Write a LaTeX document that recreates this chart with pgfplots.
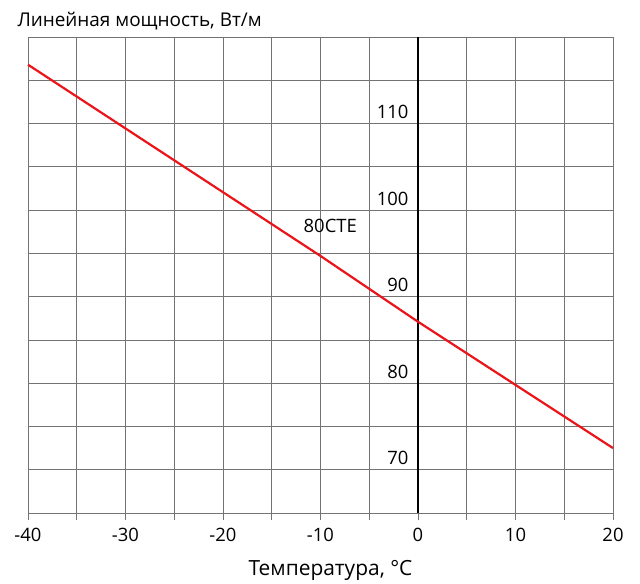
\documentclass[border=0pt]{standalone}
\usepackage{fontspec}
\setmainfont{Open Sans}
\usepackage{pgfplots}
\pgfplotsset{compat=1.18}

\definecolor{gridgray}{RGB}{115,115,115}
\definecolor{linered}{RGB}{235,20,25}

\begin{document}
\begin{tikzpicture}
\useasboundingbox (-28bp,-71bp) rectangle (612bp,513bp);
\begin{axis}[
    at={(0,0)}, anchor=south west,
    scale only axis,
    width=585bp, height=476bp,
    xmin=-40, xmax=20,
    ymin=65, ymax=120,
    xtick={-40,-30,...,20},
    minor xtick={-35,-25,...,15},
    ytick={65,70,...,120},
    yticklabels={},
    grid=both,
    major grid style={gridgray, line width=0.8bp},
    minor grid style={gridgray, line width=0.8bp},
    axis line style={gridgray, line width=0.8bp},
    tick align=outside,
    x tick style={gridgray, line width=0.8bp},
    xtick pos=bottom,
    major tick length=7bp,
    minor tick length=7bp,
    y tick style={draw=none},
    /pgf/number format/assume math mode=true,
    tick label style={font=\fontsize{18.5}{22}\selectfont},
    xticklabel style={yshift=-5bp},
    xlabel={Температура, °C},
    xlabel style={font=\fontsize{21}{24}\selectfont, yshift=-11bp, xshift=10bp},
    every axis y label/.style={at={(rel axis cs:0,1)}, anchor=base west,
        xshift=-14bp, yshift=10bp, font=\fontsize{19}{22}\selectfont},
    ylabel={Линейная мощность, Вт/м},
    clip=false,
]
% zero line
\addplot[black, line width=2bp] coordinates {(0,65) (0,120)};
% 80CTE
\addplot[linered, line width=2.2bp] coordinates {
    (-40,116.8) (-10,94.7) (0,87.1) (20,72.5)
};
\pgfplotsinvokeforeach{70,80,90,100,110}{
    \node[anchor=base east, xshift=-6bp, yshift=5bp,
        font=\fontsize{18.5}{22}\selectfont] at (axis cs:0,#1) {#1};
}
\node[font=\fontsize{18.5}{22}\selectfont] at (axis cs:-9,98.2) {80CTE};
\end{axis}
\end{tikzpicture}
\end{document}
